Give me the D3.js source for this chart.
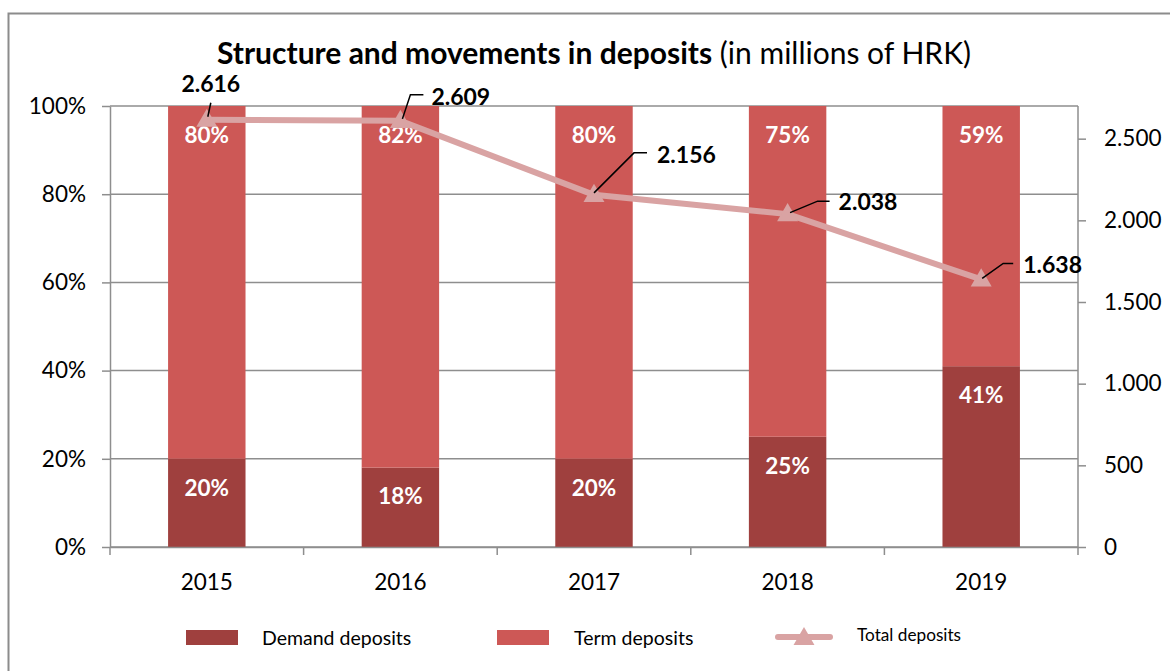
<!DOCTYPE html>
<html>
<head>
<meta charset="utf-8">
<script src="https://cdn.jsdelivr.net/npm/d3@7"></script>
<style>
  html, body { margin: 0; padding: 0; background: #fff; }
  svg { display: block; font-family: Lato, "Open Sans", sans-serif; }
</style>
</head>
<body>
<svg id="chart" width="1170" height="671"></svg>
<script>
// ---- data ----
const years = ["2015", "2016", "2017", "2018", "2019"];
const demandShare = [20, 18, 20, 25, 41];      // % of total
const termShare = [80, 82, 80, 75, 59];        // % of total
const totalDeposits = [2616, 2609, 2156, 2038, 1638]; // millions of HRK
const pctTicks = [0, 20, 40, 60, 80, 100];
const totalTicks = [0, 500, 1000, 1500, 2000, 2500];
const seriesNames = ["Demand deposits", "Term deposits", "Total deposits"];
const titleBold = "Structure and movements in deposits";
const titleRest = " (in millions of HRK)";

// ---- layout / style ----
const colors = { demand: "#9f403e", term: "#cd5856", total: "#d9a3a3", grid: "#8e8e8e" };
const plot = { left: 110, right: 1078, top: 106, bottom: 547 };
// leader line and label offsets for the total-deposit callouts (relative to each point)
const calloutLayout = [
  { path: [[1, -3], [4, -17]], lx: 4, ly: -36, anchor: "middle" },
  { path: [[2, -2], [10, -26], [23, -26]], lx: 31, ly: -24, anchor: "start" },
  { path: [[0, -2], [40, -42], [53, -42]], lx: 63, ly: -40, anchor: "start" },
  { path: [[2.5, -1.5], [30, -13], [42, -13]], lx: 51, ly: -12, anchor: "start" },
  { path: [[1, -1], [22, -16], [32, -16]], lx: 42, ly: -15, anchor: "start" }
];

const svg = d3.select("#chart");
const hrFormat = d3.formatLocale({ decimal: ",", thousands: ".", grouping: [3], currency: ["", " kn"] }).format(",d");

const rows = years.map((y, i) => ({ year: y, demand: demandShare[i], term: termShare[i], total: totalDeposits[i] }));

// ---- scales ----
const x = d3.scaleBand().domain(years).range([plot.left, plot.right]).paddingInner(0.6).paddingOuter(0.3);
const yPct = d3.scaleLinear().domain([0, 100]).range([plot.bottom, plot.top]);
const yTot = d3.scaleLinear().domain([0, 2700]).range([plot.bottom, plot.top]);
const cx = d => x(d) + x.bandwidth() / 2;

// ---- outer frame ----
svg.append("rect")
  .attr("x", 8.5).attr("y", 13.5).attr("width", 1200).attr("height", 700)
  .attr("fill", "none").attr("stroke", "#8c8c8c").attr("stroke-width", 2);

// ---- title ----
const title = svg.append("text")
  .attr("x", (plot.left + plot.right) / 2).attr("y", 64)
  .attr("text-anchor", "middle").attr("font-size", 30).attr("fill", "#000");
title.append("tspan").attr("font-weight", "bold").text(titleBold);
title.append("tspan").attr("font-weight", "normal").text(titleRest);

// ---- gridlines ----
svg.append("g").selectAll("line").data(pctTicks).join("line")
  .attr("x1", plot.left).attr("x2", plot.right)
  .attr("y1", d => yPct(d)).attr("y2", d => yPct(d))
  .attr("stroke", colors.grid).attr("stroke-width", 1.5);

// ---- stacked bars ----
const bars = svg.append("g");
bars.selectAll("rect.demand").data(rows).join("rect").attr("class", "demand")
  .attr("x", d => x(d.year)).attr("width", x.bandwidth())
  .attr("y", d => yPct(d.demand)).attr("height", d => yPct(0) - yPct(d.demand))
  .attr("fill", colors.demand);
bars.selectAll("rect.term").data(rows).join("rect").attr("class", "term")
  .attr("x", d => x(d.year)).attr("width", x.bandwidth())
  .attr("y", d => yPct(d.demand + d.term)).attr("height", d => yPct(d.demand) - yPct(d.demand + d.term))
  .attr("fill", colors.term);

// ---- axes ----
const axisStyle = g => {
  g.selectAll("path, line").attr("stroke", colors.grid).attr("stroke-width", 1.5);
  g.selectAll("text").attr("fill", "#000").attr("font-size", 22.5).attr("font-family", "Lato, sans-serif");
};

svg.append("g").attr("transform", `translate(${plot.left},0)`)
  .call(d3.axisLeft(yPct).tickValues(pctTicks).tickFormat(d => d + "%").tickSize(8).tickSizeOuter(0).tickPadding(16))
  .call(axisStyle);

svg.append("g").attr("transform", `translate(${plot.right},0)`)
  .call(d3.axisRight(yTot).tickValues(totalTicks).tickFormat(hrFormat).tickSize(8).tickSizeOuter(0).tickPadding(18))
  .call(axisStyle)
  .call(g => g.select("path.domain").attr("d", `M0,${plot.top}V${plot.bottom}`));

// category axis: ticks on category boundaries, labels centred under bars
const xAxis = svg.append("g").attr("transform", `translate(0,${plot.bottom})`)
  .call(d3.axisBottom(x).tickSize(0).tickSizeOuter(0).tickPadding(27))
  .call(axisStyle);
const gap = x.step() * x.paddingInner() / 2;
const bounds = years.map(d => x(d) - gap).concat([x(years[years.length - 1]) + x.bandwidth() + gap]);
xAxis.selectAll("line.bound").data(bounds).join("line").attr("class", "bound")
  .attr("x1", d => d).attr("x2", d => d).attr("y1", 0).attr("y2", 8)
  .attr("stroke", colors.grid).attr("stroke-width", 1.5);

// ---- bar share labels ----
const shareLabels = svg.append("g").attr("fill", "#fff").attr("font-weight", "bold")
  .attr("font-size", 22.5).attr("text-anchor", "middle");
shareLabels.selectAll("text.t").data(rows).join("text").attr("class", "t")
  .attr("x", d => cx(d.year)).attr("y", d => yPct(d.demand + d.term) + 29)
  .attr("dy", "0.35em").text(d => d.term + "%");
shareLabels.selectAll("text.d").data(rows).join("text").attr("class", "d")
  .attr("x", d => cx(d.year)).attr("y", d => yPct(d.demand) + 29)
  .attr("dy", "0.35em").text(d => d.demand + "%");

// ---- total deposits line ----
const line = d3.line().x(d => cx(d.year)).y(d => yTot(d.total));
svg.append("path").datum(rows).attr("d", line)
  .attr("fill", "none").attr("stroke", colors.total).attr("stroke-width", 6).attr("stroke-linejoin", "round");
const tri = d3.symbol(d3.symbolTriangle).size(190);
svg.append("g").selectAll("path").data(rows).join("path")
  .attr("transform", d => `translate(${cx(d.year)},${yTot(d.total) + 1})`)
  .attr("d", tri).attr("fill", colors.total);

// ---- callouts ----
const callouts = svg.append("g");
rows.forEach((d, i) => {
  const px = cx(d.year), py = yTot(d.total), c = calloutLayout[i];
  callouts.append("path")
    .attr("d", d3.line()(c.path.map(p => [px + p[0], py + p[1]])))
    .attr("fill", "none").attr("stroke", "#000").attr("stroke-width", 1.5);
  callouts.append("text")
    .attr("x", px + c.lx).attr("y", py + c.ly).attr("dy", "0.35em")
    .attr("text-anchor", c.anchor).attr("font-weight", "bold").attr("font-size", 23)
    .attr("fill", "#000").text(hrFormat(d.total));
});

// ---- legend ----
const legend = svg.append("g");
const legendItems = [
  { name: seriesNames[0], kind: "box", color: colors.demand, x: 186, tx: 262, ty: 638, fs: 19.5 },
  { name: seriesNames[1], kind: "box", color: colors.term, x: 497, tx: 574, ty: 638, fs: 19.5 },
  { name: seriesNames[2], kind: "line", color: colors.total, x: 776, tx: 857, ty: 635, fs: 17.2 }
];
legendItems.forEach(it => {
  if (it.kind === "box") {
    legend.append("rect").attr("x", it.x).attr("y", 630).attr("width", 52).attr("height", 15).attr("fill", it.color);
  } else {
    legend.append("line").attr("x1", it.x + 2).attr("x2", it.x + 54).attr("y1", 637).attr("y2", 637)
      .attr("stroke", it.color).attr("stroke-width", 6).attr("stroke-linecap", "round");
    legend.append("path").attr("transform", `translate(${it.x + 28},${639})`).attr("d", tri).attr("fill", it.color);
  }
  legend.append("text").attr("x", it.tx).attr("y", it.ty).attr("dy", "0.35em")
    .attr("font-size", it.fs).attr("fill", "#000").text(it.name);
});
</script>
</body>
</html>
